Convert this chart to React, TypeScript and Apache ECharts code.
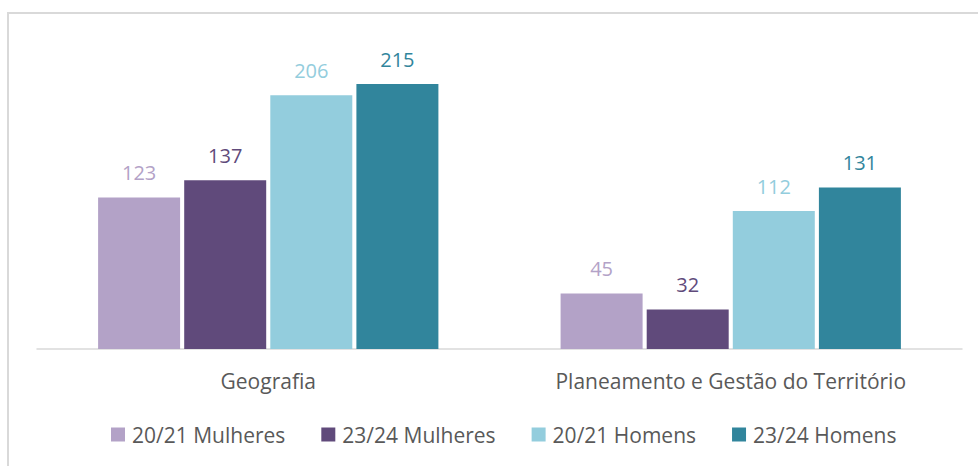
import React, { useEffect, useRef } from "react";
import * as echarts from "echarts";

const categories = ["Geografia", "Planeamento e Gestão do Território"];
const seriesNames = ["20/21 Mulheres", "23/24 Mulheres", "20/21 Homens", "23/24 Homens"];
const mulheres2021 = [123, 45];
const mulheres2324 = [137, 32];
const homens2021 = [206, 112];
const homens2324 = [215, 131];
const colors = ["#b3a2c7", "#604a7b", "#93cddd", "#31859c"];

const FONT = "'Open Sans', sans-serif";

export default function App() {
  const ref = useRef<HTMLDivElement>(null);
  useEffect(() => {
    if (!ref.current) return;
    const chart = echarts.init(ref.current, undefined, { renderer: "svg" });
    const values = [mulheres2021, mulheres2324, homens2021, homens2324];
    chart.setOption({
      animation: false,
      backgroundColor: "#ffffff",
      textStyle: { fontFamily: FONT },
      graphic: [
        {
          type: "rect",
          shape: { x: 8, y: 13, width: 1000, height: 500 },
          style: { fill: "none", stroke: "#d9d9d9", lineWidth: 2 },
          silent: true,
        },
      ],
      grid: { left: 37, right: 16, top: 41, bottom: 117 },
      legend: {
        data: seriesNames,
        left: 106,
        top: 419,
        icon: "rect",
        itemWidth: 14,
        itemHeight: 14,
        itemGap: 36,
        textStyle: { color: "#595959", fontSize: 21, fontFamily: FONT, padding: [0, 0, 0, 2] },
      },
      xAxis: {
        type: "category",
        data: categories,
        axisLine: { show: true, lineStyle: { color: "#d9d9d9", width: 1.5 } },
        axisTick: { show: false },
        axisLabel: { color: "#595959", fontSize: 21, margin: 21, fontFamily: FONT },
      },
      yAxis: {
        type: "value",
        min: 0,
        max: 250,
        show: false,
        splitLine: { show: false },
      },
      series: seriesNames.map((name, i) => ({
        name,
        type: "bar",
        data: values[i],
        barWidth: 82,
        barGap: "5%",
        itemStyle: { color: colors[i] },
        label: {
          show: true,
          position: "top",
          distance: 15,
          color: colors[i],
          fontSize: 20,
          fontFamily: FONT,
        },
      })),
    });
    return () => chart.dispose();
  }, []);
  return (
    <div
      ref={ref}
      style={{ position: "fixed", left: 0, top: 0, width: 978, height: 466 }}
    />
  );
}
